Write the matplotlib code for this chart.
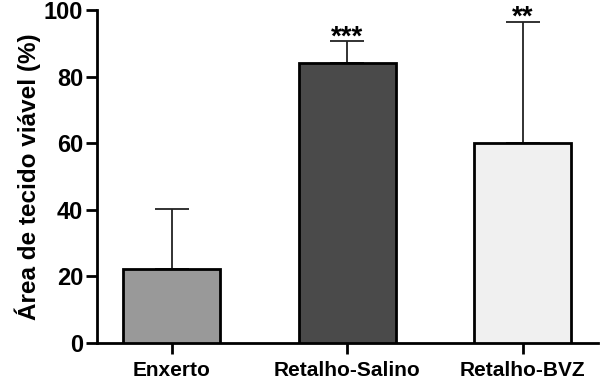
import matplotlib
matplotlib.use("Agg")
import matplotlib.pyplot as plt

categories = ["Enxerto", "Retalho-Salino", "Retalho-BVZ"]
means = [22.3, 84.0, 60.2]
upper_err = [17.9, 6.6, 36.3]
colors = ["#999999", "#4a4a4a", "#f0f0f0"]
signif = ["", "***", "**"]
yticks = [0, 20, 40, 60, 80, 100]

plt.rcParams['font.family'] = ['Liberation Sans', 'DejaVu Sans']
plt.rcParams['font.weight'] = 'bold'

fig = plt.figure(figsize=(6, 3.83), dpi=100)
ax = fig.add_axes([0.1617, 0.1044, 0.835, 0.8695])

x = list(range(len(categories)))
ax.bar(x, means, width=0.553, color=colors, edgecolor="black", linewidth=2, zorder=3)
ax.errorbar(x, means, yerr=[[0]*len(means), upper_err], fmt="none", ecolor="#222222",
            elinewidth=1.3, capsize=12.5, capthick=1.3, zorder=2)

for xi, m, e, s in zip(x, means, upper_err, signif):
    if s:
        ax.text(xi, m + e - 2.8, s, ha="center", va="bottom", fontsize=20, fontweight="bold")

ax.set_xlim(-0.425, 2.43)
ax.set_ylim(0, 100)
ax.set_yticks(yticks)
ax.set_xticks(x)
ax.set_xticklabels(categories, fontsize=15, fontweight="bold")
ax.tick_params(axis="y", labelsize=17, width=2, length=8, direction="out", pad=2)
ax.tick_params(axis="x", width=2, length=8, direction="out", pad=5)
for lab in ax.get_yticklabels():
    lab.set_fontweight("bold")

for side in ["top", "right"]:
    ax.spines[side].set_visible(False)
for side in ["left", "bottom"]:
    ax.spines[side].set_linewidth(2)

ax.set_ylabel("Área de tecido viável (%)", fontsize=17.5, fontweight="bold", labelpad=2)

fig.savefig("out.png", dpi=100)
